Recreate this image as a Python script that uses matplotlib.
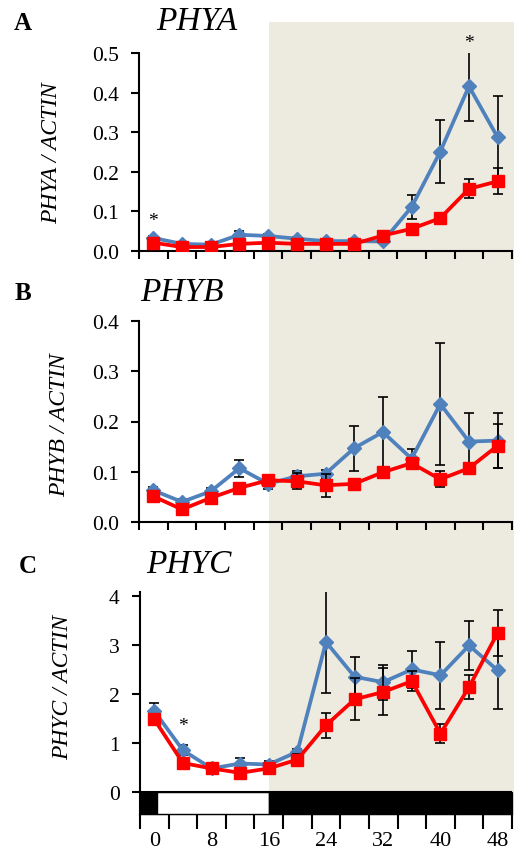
import matplotlib
matplotlib.use("Agg")
import matplotlib.pyplot as plt
from matplotlib.patches import Rectangle

plt.rcParams['font.family'] = ['Liberation Serif', 'DejaVu Serif']

# sampling times (h)
hours = [0, 4, 8, 12, 16, 20, 24, 28, 32, 36, 40, 44, 48]

# PHYA / ACTIN
phya_blue = [0.033, 0.018, 0.016, 0.041, 0.038, 0.031, 0.025, 0.025, 0.024, 0.111, 0.251, 0.416, 0.287]
phya_blue_err = [0.005, 0.004, 0.004, 0.010, 0.006, 0.005, 0.004, 0.004, 0.004, 0.031, 0.080, 0.088, 0.105]
phya_red = [0.021, 0.010, 0.010, 0.018, 0.021, 0.018, 0.018, 0.018, 0.039, 0.056, 0.083, 0.157, 0.176]
phya_red_err = [0.004, 0.003, 0.003, 0.004, 0.004, 0.003, 0.003, 0.003, 0.006, 0.006, 0.008, 0.024, 0.033]

# PHYB / ACTIN
phyb_blue = [0.063, 0.040, 0.061, 0.107, 0.076, 0.091, 0.096, 0.147, 0.179, 0.126, 0.235, 0.160, 0.162]
phyb_blue_err = [0.006, 0.005, 0.006, 0.017, 0.010, 0.011, 0.008, 0.045, 0.070, 0.019, 0.121, 0.057, 0.054]
phyb_red = [0.051, 0.025, 0.048, 0.068, 0.083, 0.081, 0.073, 0.076, 0.099, 0.117, 0.085, 0.107, 0.152]
phyb_red_err = [0.006, 0.004, 0.005, 0.006, 0.006, 0.016, 0.023, 0.006, 0.007, 0.010, 0.016, 0.008, 0.044]

# PHYC / ACTIN
phyc_blue = [1.65, 0.85, 0.48, 0.58, 0.56, 0.82, 3.06, 2.35, 2.24, 2.50, 2.38, 2.99, 2.48]
phyc_blue_err = [0.17, 0.10, 0.05, 0.11, 0.07, 0.06, 1.04, 0.41, 0.36, 0.38, 0.68, 0.50, 0.78]
phyc_red = [1.48, 0.59, 0.48, 0.39, 0.48, 0.66, 1.36, 1.89, 2.04, 2.26, 1.19, 2.14, 3.25]
phyc_red_err = [0.12, 0.10, 0.05, 0.06, 0.06, 0.12, 0.25, 0.43, 0.48, 0.20, 0.20, 0.25, 0.47]

# light / dark bar (start, end, colour)
light_bar = [(-2, 0.4, 'black'), (0.4, 16, 'white'), (16, 50, 'black')]
shade_start = 16

BLUE = '#4F81BD'
RED = '#FF0000'
SHADE = '#EDEAE0'

W, H = 514, 854
fig = plt.figure(figsize=(W / 100, H / 100), dpi=100)


def px_axes(x0, x1, y_top, y_bot):
    return fig.add_axes([x0 / W, 1 - y_bot / H, (x1 - x0) / W, (y_bot - y_top) / H])


axA = px_axes(139, 512, 54, 252)
axB = px_axes(139, 512, 322, 523)
axC = px_axes(140, 512, 593, 815)

panels = [
    (axA, phya_blue, phya_blue_err, phya_red, phya_red_err, (0, 0.5), [0, 0.1, 0.2, 0.3, 0.4, 0.5], '{:.1f}'),
    (axB, phyb_blue, phyb_blue_err, phyb_red, phyb_red_err, (0, 0.4), [0, 0.1, 0.2, 0.3, 0.4], '{:.1f}'),
    (axC, phyc_blue, phyc_blue_err, phyc_red, phyc_red_err, (-0.45, 4.08), [0, 1, 2, 3, 4], '{:.0f}'),
]

bounds = [h - 2 for h in hours] + [50]

for ax, b, be, r, re_, ylim, yt, fmt in panels:
    ax.set_facecolor('none')
    ax.errorbar(hours, b, yerr=be, fmt='none', ecolor='black', elinewidth=1.2,
                capsize=3.6, capthick=1.2, zorder=2)
    ax.plot(hours, b, color=BLUE, lw=2.7, marker='D', ms=7.5, zorder=3)
    ax.errorbar(hours, r, yerr=re_, fmt='none', ecolor='black', elinewidth=1.2,
                capsize=3.6, capthick=1.2, zorder=4)
    ax.plot(hours, r, color=RED, lw=2.7, marker='s', ms=8.5, zorder=5)
    ax.set_xlim(-2, 50)
    ax.set_ylim(*ylim)
    ax.set_yticks(yt)
    ax.set_yticklabels([fmt.format(v) for v in yt])
    ax.set_xticks(bounds)
    ax.set_xticklabels([])
    for s in ['top', 'right']:
        ax.spines[s].set_visible(False)
    for s in ['left', 'bottom']:
        ax.spines[s].set_linewidth(1.5)
    ax.tick_params(axis='y', direction='out', length=5.5, width=1.5, labelsize=15.5, pad=9)
    ax.tick_params(axis='x', direction='out', length=5.5, width=1.5)

# panel C: light/dark bar and hour labels
for x0, x1, c in light_bar:
    axC.add_patch(Rectangle((x0, -0.45), x1 - x0, 0.45, facecolor=c, edgecolor='black',
                            lw=1.0, zorder=6, clip_on=False))
axC.axhline(0, color='black', lw=1.5, zorder=7)
axC.tick_params(axis='x', length=11)
axC.set_xticks(hours[::2], minor=True)
axC.set_xticklabels([str(h) for h in hours[::2]], minor=True, fontsize=16)
axC.tick_params(axis='x', which='minor', length=0, pad=12)

# dark-period shading behind all panels
fx0 = axC.transData.transform((shade_start, 0))
fx0 = fig.transFigure.inverted().transform(fx0)
fig.patches.append(Rectangle((fx0[0], fx0[1]), 514 / W - fx0[0], (1 - 23 / H) - fx0[1],
                             transform=fig.transFigure, facecolor=SHADE, edgecolor='none', zorder=-1))

# titles, panel letters, y labels
fig.text(197 / W, 1 - 22 / H, 'PHYA', fontsize=24, style='italic', ha='center', va='center')
fig.text(182 / W, 1 - 293 / H, 'PHYB', fontsize=24, style='italic', ha='center', va='center')
fig.text(189 / W, 1 - 565 / H, 'PHYC', fontsize=24, style='italic', ha='center', va='center')
fig.text(23 / W, 1 - 23 / H, 'A', fontsize=18, weight='bold', ha='center', va='center')
fig.text(23 / W, 1 - 293 / H, 'B', fontsize=18, weight='bold', ha='center', va='center')
fig.text(28 / W, 1 - 567 / H, 'C', fontsize=18, weight='bold', ha='center', va='center')
fig.text(52 / W, 1 - 153 / H, 'PHYA / ACTIN', fontsize=17, style='italic', rotation=90, ha='center', va='center')
fig.text(60 / W, 1 - 425 / H, 'PHYB / ACTIN', fontsize=17, style='italic', rotation=90, ha='center', va='center')
fig.text(63 / W, 1 - 687 / H, 'PHYC / ACTIN', fontsize=17, style='italic', rotation=90, ha='center', va='center')

# significance marks
axA.text(0, 0.078, '*', fontsize=14, ha='center', va='center', clip_on=False)
axA.text(44, 0.527, '*', fontsize=14, ha='center', va='center', clip_on=False)
axC.text(4, 1.35, '*', fontsize=14, ha='center', va='center', clip_on=False)

fig.savefig('out.png', dpi=100)
